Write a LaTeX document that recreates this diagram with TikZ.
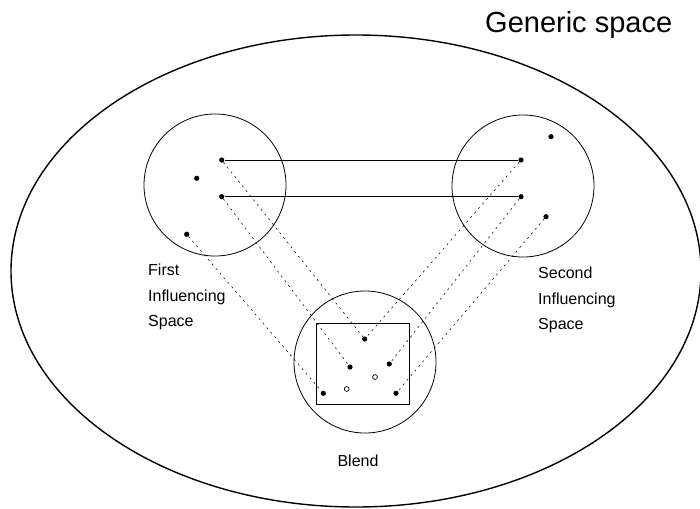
\documentclass[tikz,border=0pt]{standalone}
\usepackage{fontspec}
\setmainfont{Liberation Sans}

\begin{document}
\begin{tikzpicture}[x=1pt,y=-1pt,
  space/.style={circle,draw,line width=0.8pt,inner sep=0pt,minimum size=142pt},
  dot/.style={circle,fill,inner sep=0pt,minimum size=5.2pt},
  hollow/.style={circle,draw,line width=0.7pt,inner sep=0pt,minimum size=4.8pt},
  link/.style={line width=0.55pt,dash pattern=on 2pt off 4pt},
  lbl/.style={align=left,inner sep=0pt,anchor=north west,font=\fontsize{16}{25.5}\selectfont}]
  \useasboundingbox (0,0) rectangle (700,508);
  % generic space
  \draw[line width=1.4pt] (356,271) ellipse [x radius=345pt, y radius=236pt];
  \node[anchor=base west,inner sep=0pt,font=\fontsize{29}{34}\selectfont] (gen) at (485,33) {Generic space};
  % the three spaces
  \node[space] (first) at (215,185) {};
  \node[space] (second) at (523,186) {};
  \node[space] (blend) at (365,362) {};
  \draw[line width=0.9pt] (316,323) rectangle (409,404);
  % elements
  \node[dot] (f1) at (221.7,160) {};
  \node[dot] (f2) at (196.7,178.3) {};
  \node[dot] (f3) at (221.7,196.7) {};
  \node[dot] (f4) at (186.7,234.3) {};
  \node[dot] (s1) at (551,136.7) {};
  \node[dot] (s2) at (521,160) {};
  \node[dot] (s3) at (521,196.7) {};
  \node[dot] (s4) at (546,216.7) {};
  \node[dot] (b1) at (364.7,339) {};
  \node[dot] (b2) at (350,367) {};
  \node[dot] (b3) at (389.3,364) {};
  \node[hollow] (b4) at (375,377) {};
  \node[hollow] (b5) at (346.7,389) {};
  \node[dot] (b6) at (323.3,393.3) {};
  \node[dot] (b7) at (396,393.3) {};
  % counterpart links
  \draw[line width=0.8pt] (f1) -- (s2);
  \draw[line width=0.8pt] (f3) -- (s3);
  % projections into the blend
  \draw[link] (f1) -- (b1);
  \draw[link] (f3) -- (b2);
  \draw[link] (f4) -- (b6);
  \draw[link] (s2) -- (b1);
  \draw[link] (s3) -- (b3);
  \draw[link] (s4) -- (b7);
  % labels
  \node[lbl] (firstlbl) at (148,264) {First\\Influencing\\Space};
  \node[lbl] (secondlbl) at (538,267) {Second\\Influencing\\Space};
  \node[anchor=base,inner sep=0pt,font=\fontsize{16}{25.5}\selectfont] (blendlbl) at (358,466) {Blend};
\end{tikzpicture}
\end{document}
